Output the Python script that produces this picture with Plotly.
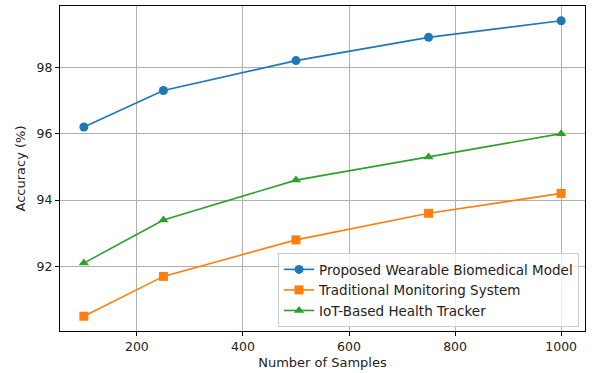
import plotly.graph_objects as go

samples = [100, 250, 500, 750, 1000]
proposed = [96.2, 97.3, 98.2, 98.9, 99.4]
traditional = [90.5, 91.7, 92.8, 93.6, 94.2]
iot = [92.1, 93.4, 94.6, 95.3, 96.0]

series = [
    ("Proposed Wearable Biomedical Model", proposed, "#1f77b4", "circle", 9),
    ("Traditional Monitoring System", traditional, "#ff7f0e", "square", 9),
    ("IoT-Based Health Tracker", iot, "#2ca02c", "triangle-up", 9),
]

fig = go.Figure()
for name, vals, color, sym, msize in series:
    fig.add_trace(go.Scatter(
        x=samples, y=vals, mode="lines+markers", name=name,
        line=dict(color=color, width=1.6),
        marker=dict(symbol=sym, size=msize, color=color),
    ))

axis_common = dict(
    showline=True, linecolor="black", linewidth=1, mirror=True,
    showgrid=True, gridcolor="#b0b0b0", gridwidth=1,
    ticks="outside", ticklen=4, tickcolor="black",
    tickfont=dict(family="DejaVu Sans", size=12.5, color="#222"),
    zeroline=False,
)

fig.update_layout(
    width=592, height=373,
    margin=dict(l=60, r=7, t=6, b=42),
    paper_bgcolor="white", plot_bgcolor="white",
    font=dict(family="DejaVu Sans", size=13, color="#222"),
    xaxis=dict(range=[55, 1045], tickvals=[200, 400, 600, 800, 1000],
               title=dict(text="Number of Samples", standoff=4,
                          font=dict(family="DejaVu Sans", size=13)),
               **axis_common),
    yaxis=dict(range=[90.055, 99.845], tickvals=[92, 94, 96, 98],
               title=dict(text="Accuracy (%)", standoff=8,
                          font=dict(family="DejaVu Sans", size=13)),
               **axis_common),
    legend=dict(x=0.9886, y=0.012, xanchor="right", yanchor="bottom",
                bgcolor="rgba(255,255,255,0.8)", bordercolor="#cccccc",
                borderwidth=1, font=dict(family="DejaVu Sans", size=13.5),
                tracegroupgap=0),
    showlegend=True,
)

fig.write_html("out.html", config={"displayModeBar": False},
               post_script="document.body.style.margin='0';document.body.style.padding='0';")
